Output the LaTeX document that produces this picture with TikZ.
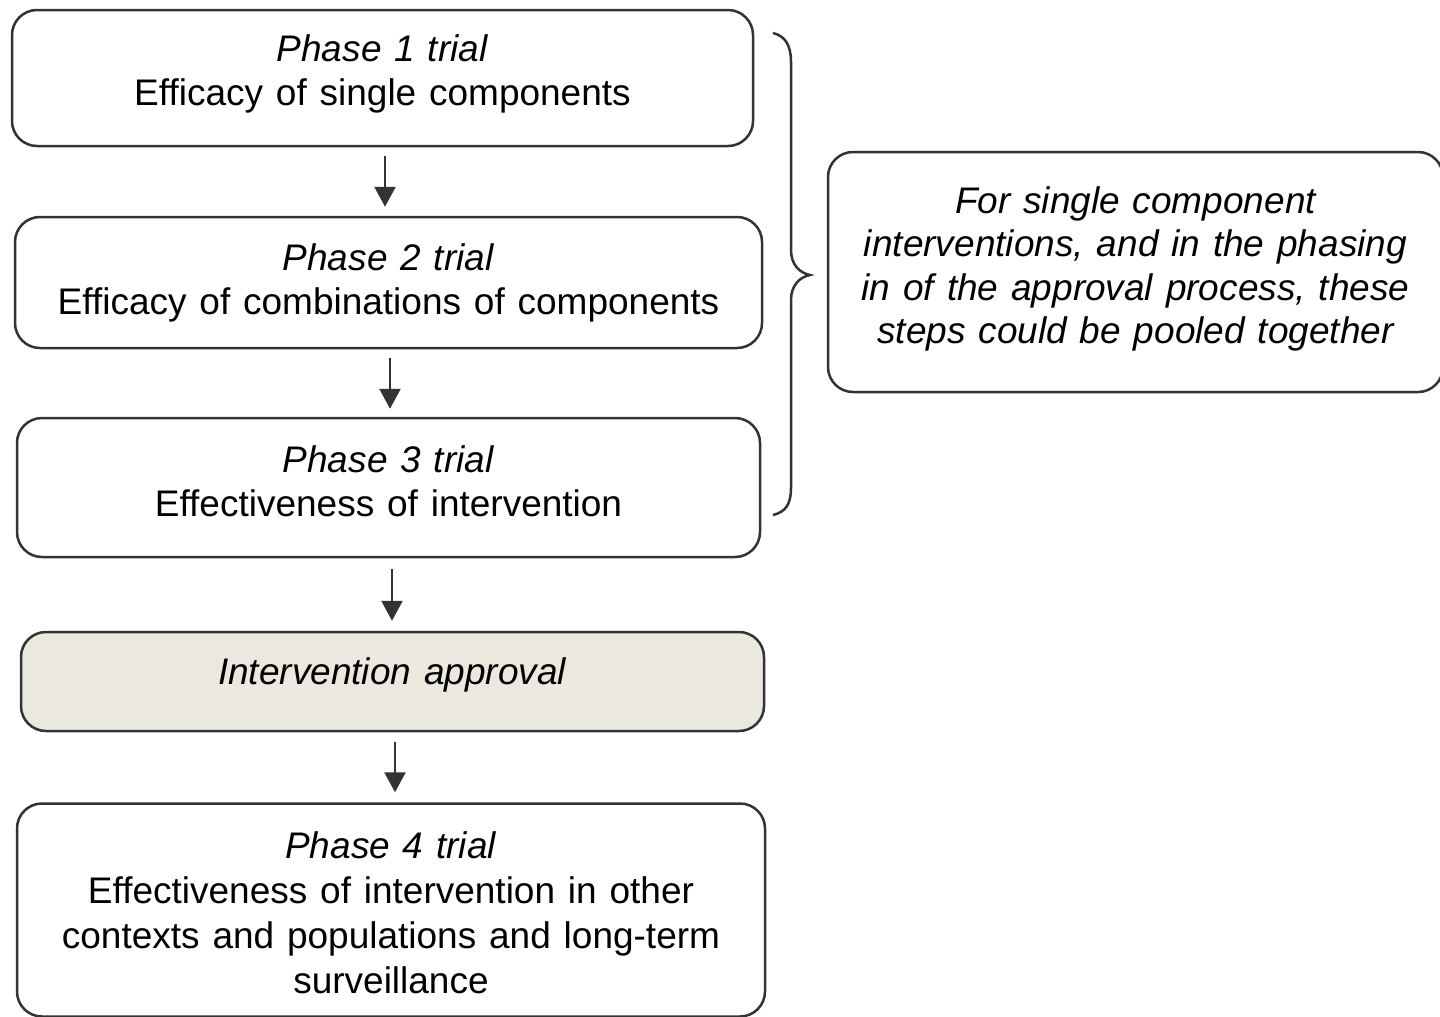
\documentclass[tikz,border=0pt]{standalone}
\usepackage{fontspec}
\setmainfont{Liberation Sans}[WordSpace=1.25]
\usetikzlibrary{arrows.meta}
\definecolor{edge}{HTML}{333333}
\definecolor{beige}{HTML}{EBE8DF}
\begin{document}
\begin{tikzpicture}[x=1pt,y=-1pt,
  box/.style={draw=edge, line width=2.5pt, rounded corners=25pt, inner sep=0pt},
  txt/.style={align=center, inner sep=0pt, font=\fontsize{37}{44}\selectfont},
  arr/.style={draw=edge, line width=2.5pt, -{Triangle[width=21pt,length=20pt]}},
  brace/.style={draw=edge, line width=2.5pt}]
\useasboundingbox (0,0) rectangle (1440,1017);
\node[box, minimum width=741pt, minimum height=136pt] (b1) at (382.5,78) {};
\node[box, minimum width=747pt, minimum height=131pt] (b2) at (388.5,282.5) {};
\node[box, minimum width=743pt, minimum height=139pt] (b3) at (388.5,487.5) {};
\node[box, fill=beige, minimum width=743pt, minimum height=99pt] (ap) at (392.5,681.5) {};
\node[box, minimum width=748pt, minimum height=213pt] (b4) at (391,910) {};
\node[box, minimum width=615pt, minimum height=240pt] (rb) at (1135.5,272) {};
\node[txt] (t1) at ([yshift=4pt]b1.center)
  {\textit{Phase 1 trial}\\Efficacy of single components};
\node[txt] (t2) at (b2.center)
  {\textit{Phase 2 trial}\\Efficacy of combinations of components};
\node[txt] (t3) at ([yshift=6.5pt]b3.center)
  {\textit{Phase 3 trial}\\Effectiveness of intervention};
\node[txt] (ta) at ([yshift=7pt]ap.center)
  {\textit{Intervention approval}};
\node[txt, font=\fontsize{37}{45}\selectfont] (t4) at ([yshift=-2.5pt]b4.center)
  {\textit{Phase 4 trial}\\Effectiveness of intervention in other\\contexts and populations and long-term\\surveillance};
\node[txt, font=\fontsize{37}{43.5}\selectfont\itshape] (tr) at ([yshift=3pt]rb.center)
  {For single component\\interventions, and in the phasing\\in of the approval process, these\\steps could be pooled together};
\draw[arr] ([xshift=2.5pt,yshift=-9pt]b1.south) -- ([xshift=-3.5pt,yshift=9pt]b2.north);
\draw[arr] ([xshift=1.5pt,yshift=-9pt]b2.south) -- ([xshift=1.5pt,yshift=8pt]b3.north);
\draw[arr] ([xshift=3.5pt,yshift=-11pt]b3.south) -- ([xshift=-0.5pt,yshift=10pt]ap.north);
\draw[arr] ([xshift=2.5pt,yshift=-10pt]ap.south) -- ([xshift=4pt,yshift=10pt]b4.north);
\draw[brace] (773,33) .. controls (785,36) and (791,45) .. (791,62) -- (791,250)
  .. controls (791,265) and (800,273) .. (810,275)
  .. controls (800,277) and (791,285) .. (791,300) -- (791,488)
  .. controls (791,505) and (785,512) .. (773,515);
\end{tikzpicture}
\end{document}
